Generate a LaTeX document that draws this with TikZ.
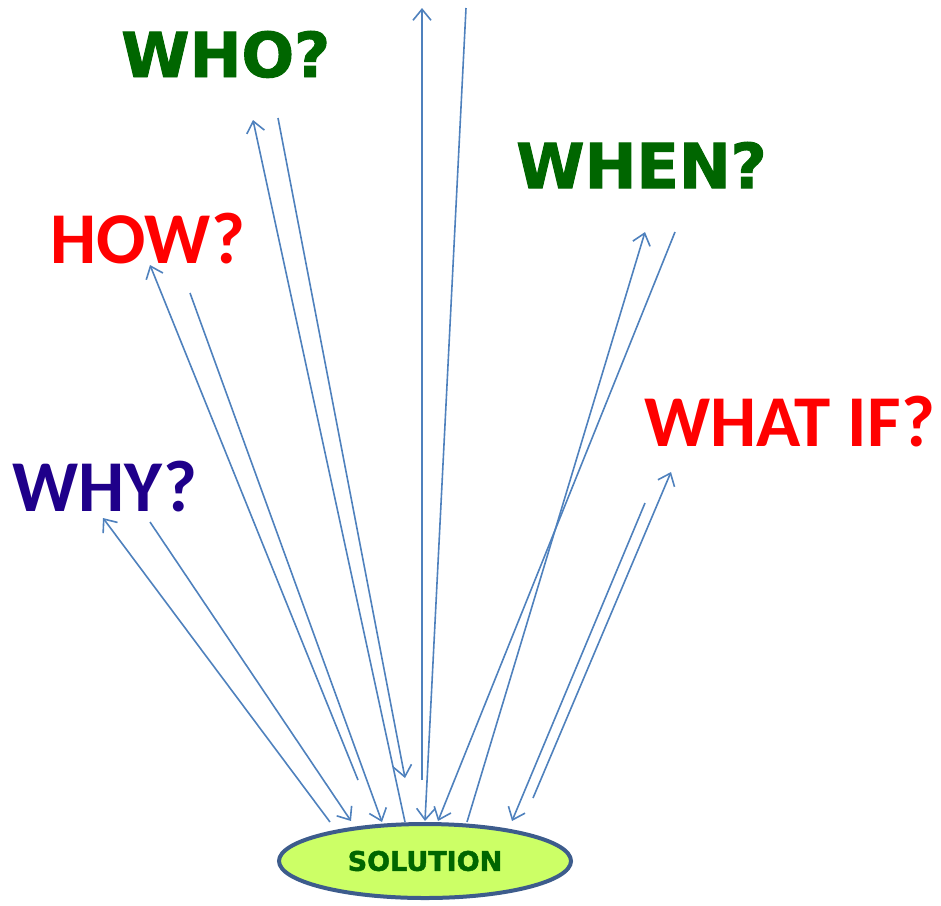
\documentclass[tikz,border=0pt]{standalone}
\usepackage{fontspec}
\usetikzlibrary{arrows.meta,shapes.geometric}
\newfontfamily\heavyfont{DejaVu Sans}[BoldFeatures={FakeBold=1.6}]
\newfontfamily\calfont{Carlito}
\definecolor{qgreen}{RGB}{0,102,0}
\definecolor{qred}{RGB}{255,0,0}
\definecolor{qindigo}{RGB}{31,0,138}
\definecolor{arrblue}{RGB}{79,129,189}
\definecolor{solfill}{RGB}{204,255,102}
\definecolor{soledge}{RGB}{61,92,140}

\begin{document}
\begin{tikzpicture}[x=1pt, y=-1pt,
    heavy/.style={anchor=base west, inner sep=0pt, text=qgreen,
                  font=\heavyfont\bfseries\fontsize{62}{62}\selectfont},
    light/.style={anchor=base west, inner sep=0pt, text=#1,
                  font=\calfont\bfseries\fontsize{73}{73}\selectfont},
    arr/.style={-{Straight Barb[length=11pt,width=18pt]}, draw=arrblue,
                line width=1.6pt}
  ]
  \useasboundingbox (0,0) rectangle (941,905);

  %% ---- questions ----
  \node[heavy]        (who)    at (121,77)  {WHO?};
  \node[heavy]        (when)   at (516,188) {WHEN?};
  \node[light=qred]   (how)    at (50,263)  {HOW?};
  \node[light=qindigo](why)    at (12,511)  {WHY?};
  \node[light=qred]   (whatif) at (644,446) {WHAT IF?};

  %% ---- solution ----
  \node[ellipse, draw=soledge, line width=4pt, fill=solfill,
        minimum width=292pt, minimum height=74pt, inner sep=0pt,
        font=\heavyfont\bfseries\fontsize{27}{27}\selectfont, text=qgreen]
        (solution) at (425,861) {SOLUTION};

  %% ---- arrow ends ----
  \coordinate (why-a)  at (330,822); \coordinate (why-b)  at (103,518);
  \coordinate (why-c)  at (150,522); \coordinate (why-d)  at (351,821);
  \coordinate (how-a)  at (358,780); \coordinate (how-b)  at (150,265);
  \coordinate (how-c)  at (190,293); \coordinate (how-d)  at (382,822);
  \coordinate (who-a)  at (405,822); \coordinate (who-b)  at (253,120);
  \coordinate (who-c)  at (278,118); \coordinate (who-d)  at (405,778);
  \coordinate (mid-a)  at (422,780); \coordinate (mid-b)  at (422,8);
  \coordinate (mid-c)  at (466,8);   \coordinate (mid-d)  at (425,821);
  \coordinate (when-a) at (467,822); \coordinate (when-b) at (645,232);
  \coordinate (when-c) at (675,232); \coordinate (when-d) at (438,821);
  \coordinate (wif-a)  at (533,798); \coordinate (wif-b)  at (671,472);
  \coordinate (wif-c)  at (645,503); \coordinate (wif-d)  at (512,821);

  %% ---- arrows out and back ----
  \foreach \q in {why,how,who,mid,when,wif} {
    \draw[arr] (\q-a) -- (\q-b);
    \draw[arr] (\q-c) -- (\q-d);
  }

\end{tikzpicture}
\end{document}
